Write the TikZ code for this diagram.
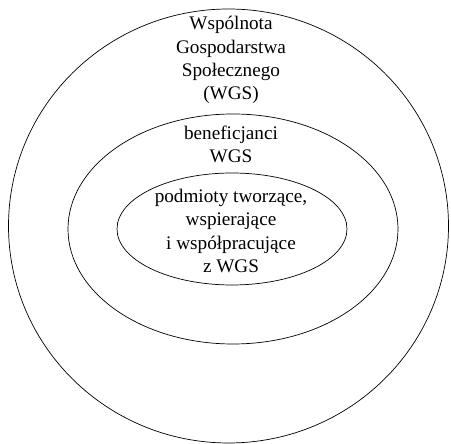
\documentclass[tikz,border=0pt]{standalone}
\usepackage{fontspec}
\setmainfont{Liberation Serif}
\usetikzlibrary{shapes.geometric}
\begin{document}
\begin{tikzpicture}[x=1pt,y=1pt,
  ring/.style={draw=black, line width=0.7pt, ellipse, inner sep=0pt},
  lbl/.style={align=center, inner sep=0pt, anchor=base, font=\fontsize{19.2}{23.4}\selectfont}]
\useasboundingbox (0,0) rectangle (451,444);
\node[ring, minimum width=440pt, minimum height=434pt] (outer) at (228.5,218) {};
\node[ring, minimum width=330pt, minimum height=230pt] (middle) at (233,215) {};
\node[ring, minimum width=230pt, minimum height=112pt] (inner) at (232,215) {};
\node[lbl] (t1) at (231,344) {Wspólnota\\Gospodarstwa\\Społecznego\\(WGS)};
\node[lbl] (t2) at (231,281) {beneficjanci\\WGS};
\node[lbl] (t3) at (231,171.5) {podmioty tworzące,\\wspierające\\i współpracujące\\z WGS};
\end{tikzpicture}
\end{document}
